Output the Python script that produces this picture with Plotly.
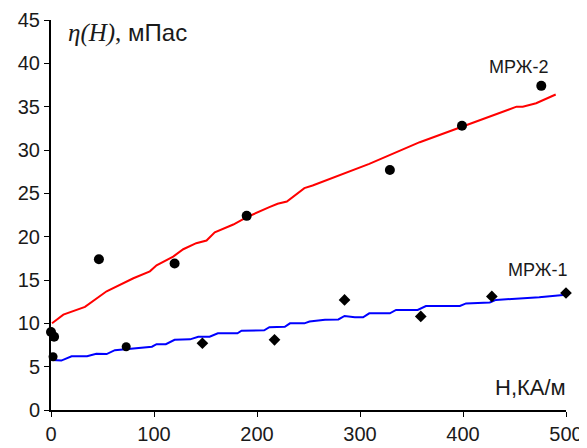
import plotly.graph_objects as go

# Fitted curves
red_x = [1, 12, 33, 54, 80, 96, 102.5, 118.6, 128.4, 141, 151, 159, 177, 191, 212, 220, 229, 246, 254, 309, 358, 399, 452, 458, 471, 490]
red_y = [10.0, 11.0, 11.9, 13.7, 15.2, 16.0, 16.7, 17.7, 18.55, 19.25, 19.55, 20.5, 21.4, 22.3, 23.4, 23.8, 24.05, 25.6, 25.9, 28.4, 30.9, 32.7, 35.0, 35.0, 35.4, 36.4]

blue_x = [1, 10, 20, 35, 44, 54, 62, 73, 98, 102.5, 111.5, 120, 135, 143, 154, 162, 181, 185, 207, 212, 227, 232, 246, 251, 266, 279, 285, 295, 303, 309, 329, 335, 356, 364, 397, 403, 426, 432, 474, 500]
blue_y = [5.77, 5.7, 6.2, 6.2, 6.5, 6.45, 6.9, 7.0, 7.3, 7.6, 7.6, 8.1, 8.15, 8.45, 8.45, 8.85, 8.85, 9.15, 9.2, 9.55, 9.6, 10.0, 10.0, 10.2, 10.4, 10.45, 10.85, 10.7, 10.7, 11.15, 11.15, 11.55, 11.55, 12.0, 12.0, 12.3, 12.4, 12.7, 13.0, 13.3]

# Measured points
pts2_x = [0, 3, 46.5, 120, 190, 329, 399, 476]
pts2_y = [9.0, 8.45, 17.4, 16.9, 22.4, 27.7, 32.8, 37.4]

pts1_x = [2, 73, 147, 217, 285, 359, 428, 500]
pts1_y = [6.15, 7.3, 7.7, 8.1, 12.7, 10.8, 13.1, 13.5]

x_ticks = [0, 100, 200, 300, 400, 500]
y_ticks = [0, 5, 10, 15, 20, 25, 30, 35, 40, 45]

fig = go.Figure()
fig.add_trace(go.Scatter(x=red_x, y=red_y, mode="lines",
                         line=dict(color="#ff0000", width=2), cliponaxis=False))
fig.add_trace(go.Scatter(x=blue_x, y=blue_y, mode="lines",
                         line=dict(color="#0000ff", width=2), cliponaxis=False))
fig.add_trace(go.Scatter(x=pts2_x, y=pts2_y, mode="markers",
                         marker=dict(color="black", size=10, symbol="circle"), cliponaxis=False))
fig.add_trace(go.Scatter(x=pts1_x, y=pts1_y, mode="markers",
                         marker=dict(color="black", size=9,
                                     symbol=["circle", "circle", "diamond", "diamond", "diamond", "diamond", "diamond", "diamond"]),
                         cliponaxis=False))

font_main = "Liberation Sans, Arial, sans-serif"

# The page places the figure 8px from the top-left corner (body margin),
# so the figure is 8px smaller and the left/top margins are reduced accordingly.
fig.update_layout(
    width=579, height=440,
    margin=dict(l=43, r=21, t=12, b=38, autoexpand=False),
    plot_bgcolor="white", paper_bgcolor="white",
    showlegend=False,
    xaxis=dict(range=[0, 500], tickvals=x_ticks, showgrid=False, zeroline=False,
               showline=True, linecolor="black", linewidth=2, automargin=False,
               ticks="outside", ticklen=5, tickwidth=1, tickcolor="black",
               tickfont=dict(family=font_main, size=20, color="#1a1a1a")),
    yaxis=dict(range=[0, 45], tickvals=y_ticks, showgrid=False, zeroline=False,
               showline=True, linecolor="black", linewidth=2, automargin=False,
               ticks="outside", ticklen=5, tickwidth=1, tickcolor="black",
               tickfont=dict(family=font_main, size=20, color="#1a1a1a")),
    annotations=[
        dict(xref="paper", yref="paper", x=0.03, y=(410 - 33) / 390, xanchor="left", yanchor="middle",
             text="<span style='font-family:Liberation Serif, Times New Roman, serif; font-size:25px'><i>η(H)</i>,</span><span style='font-family:Liberation Sans, Arial, sans-serif; font-size:24px'> мПас</span>",
             showarrow=False, font=dict(family=font_main, size=24, color="#1a1a1a")),
        dict(xref="paper", yref="paper", x=0.907, y=(410 - 67) / 390, xanchor="center", yanchor="middle",
             text="МРЖ-2", showarrow=False, font=dict(family=font_main, size=18, color="#1a1a1a")),
        dict(xref="paper", yref="paper", x=1.006, y=(410 - 270) / 390, xanchor="right", yanchor="middle",
             text="МРЖ-1", showarrow=False, font=dict(family=font_main, size=18, color="#1a1a1a")),
        dict(xref="paper", yref="paper", x=1.004, y=(410 - 387) / 390, xanchor="right", yanchor="middle",
             text="Н,КА/м", showarrow=False, font=dict(family=font_main, size=22, color="#1a1a1a")),
    ],
)

fig.write_html("out.html")
